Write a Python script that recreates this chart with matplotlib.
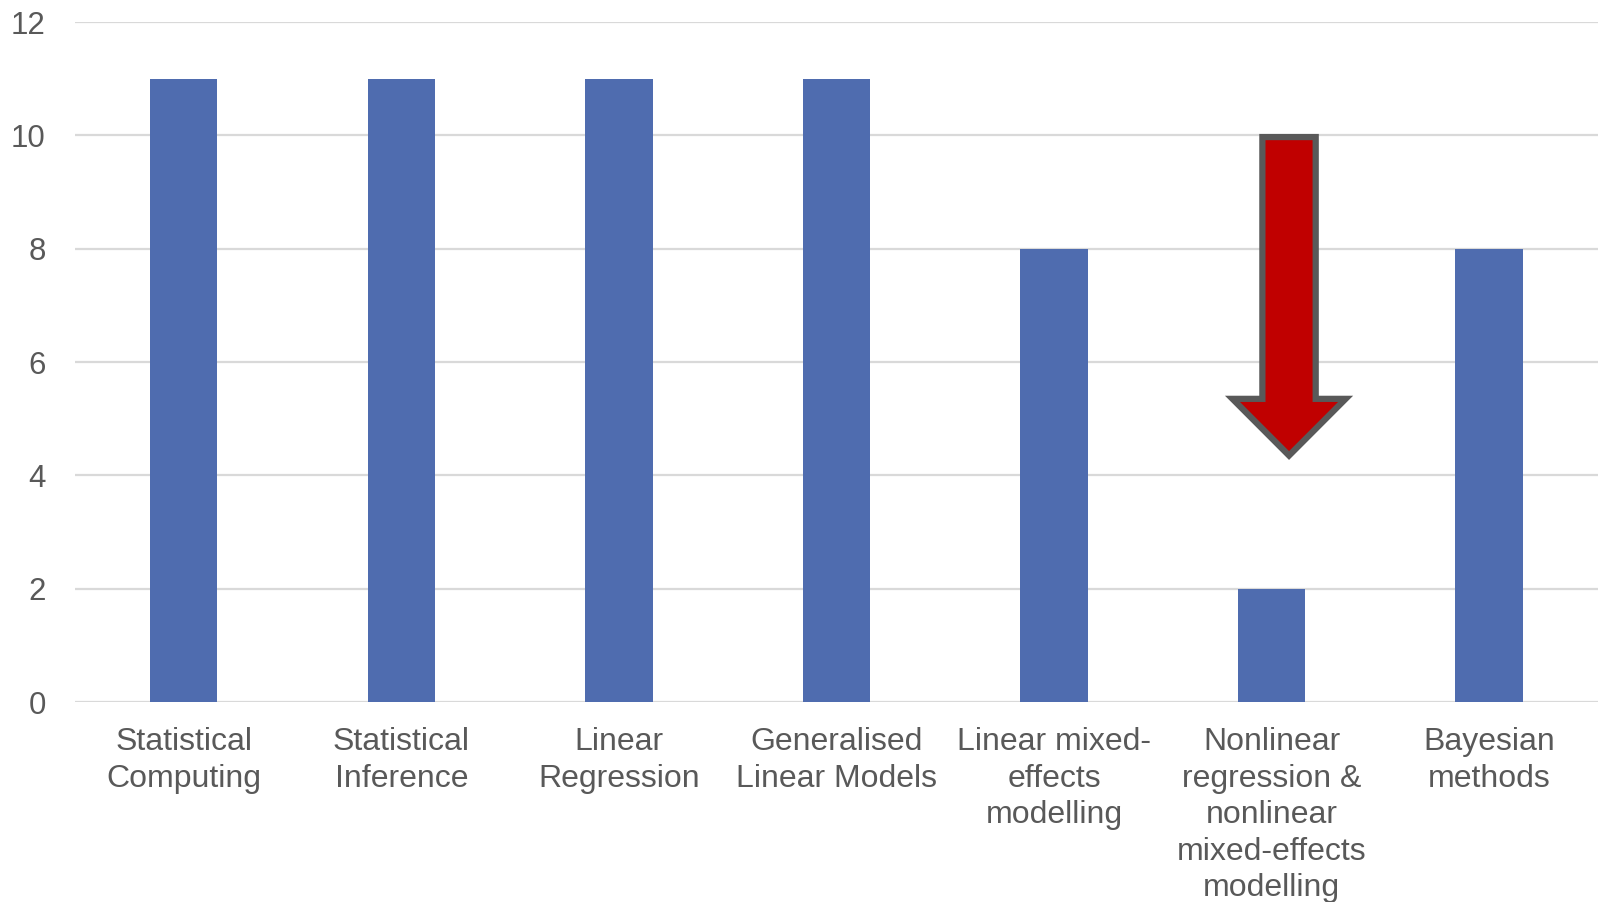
import numpy as np
import matplotlib.pyplot as plt
from matplotlib.patches import FancyArrow

courses = ["Statistical\nComputing", "Statistical\nInference", "Linear\nRegression",
           "Generalised\nLinear Models", "Linear mixed-\neffects\nmodelling",
           "Nonlinear\nregression &\nnonlinear\nmixed-effects\nmodelling",
           "Bayesian\nmethods"]
counts = [11, 11, 11, 11, 8, 2, 8]
yticks = [0, 2, 4, 6, 8, 10, 12]

# arrow drawn over the nonlinear column (from 10 down to ~4.3)
arrow_x = 5.08
arrow_top = 9.97
arrow_tip = 4.35

plt.rcParams['font.family'] = ['Liberation Sans', 'DejaVu Sans']
text_col = '#595959'

fig = plt.figure(figsize=(15.98, 9.02), dpi=100)
ax = fig.add_axes([0.0469, 0.2217, 0.9531, 0.7539])

x = np.arange(len(courses))
ax.bar(x, counts, width=0.31, color='#4F6CAF', zorder=2)

ax.set_xlim(-0.5, len(courses) - 0.5)
ax.set_ylim(0, 12)
ax.set_yticks(yticks)
ax.set_xticks(x)
ax.set_xticklabels(courses, fontsize=23, color=text_col, linespacing=1.285)
ax.tick_params(axis='y', labelsize=22.5, colors=text_col, length=0, pad=21)
ax.tick_params(axis='x', length=0, pad=18)
ax.grid(axis='y', color='#D9D9D9', linewidth=1.6, zorder=0)
for s in ax.spines.values():
    s.set_visible(False)

arr = FancyArrow(arrow_x, arrow_top, 0, arrow_tip - arrow_top, width=0.245,
                 head_width=0.52, head_length=1.0, length_includes_head=True,
                 facecolor='#C00000', edgecolor='#595959', linewidth=4.5,
                 joinstyle='miter', zorder=3)
ax.add_patch(arr)

fig.savefig("out.png", dpi=100)
